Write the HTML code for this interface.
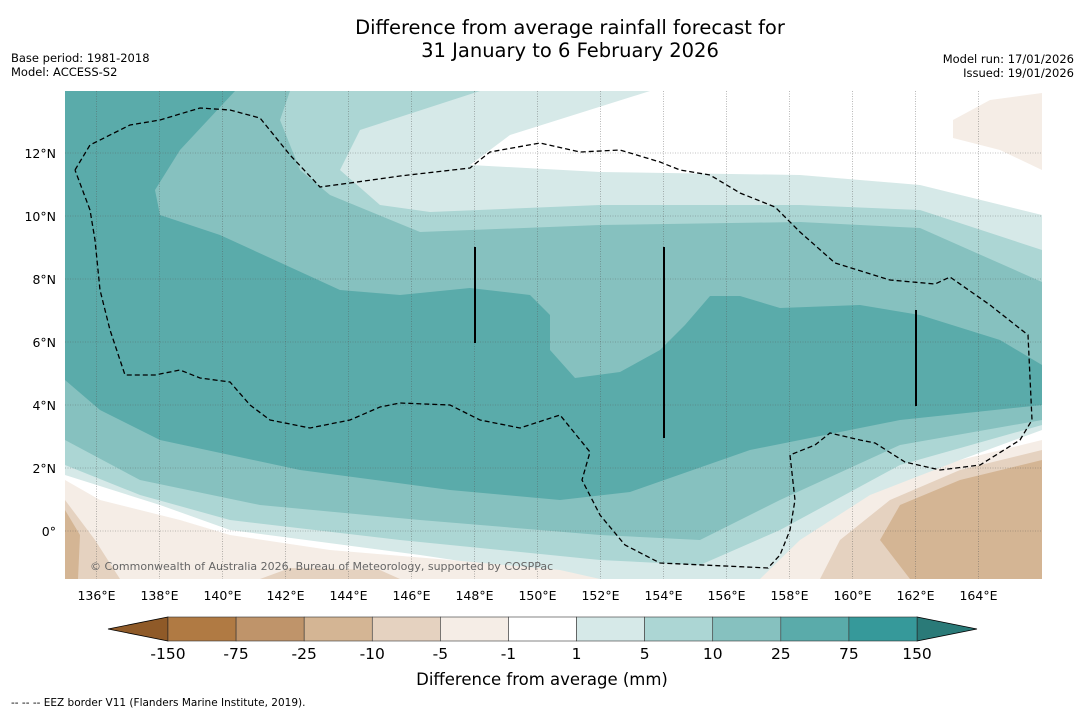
<!DOCTYPE html>
<html><head><meta charset="utf-8"><style>
body{margin:0;background:#fff;font-family:"Liberation Sans","DejaVu Sans",sans-serif;}
</style></head><body>
<svg id="s" width="1085" height="713" xmlns="http://www.w3.org/2000/svg" style="font-family:'DejaVu Sans','Liberation Sans',sans-serif">
<text x="570" y="34" font-size="19.5" text-anchor="middle">Difference from average rainfall forecast for</text>
<text x="570" y="57" font-size="19.5" text-anchor="middle">31 January to 6 February 2026</text>
<text x="11" y="62" font-size="11.5">Base period: 1981-2018</text>
<text x="11" y="76" font-size="11.5">Model: ACCESS-S2</text>
<text x="1074" y="63" font-size="11.5" text-anchor="end">Model run: 17/01/2026</text>
<text x="1074" y="77" font-size="11.5" text-anchor="end">Issued: 19/01/2026</text>
<defs><clipPath id="mc"><rect x="65" y="91" width="977" height="488"/></clipPath></defs>
<g id="map" clip-path="url(#mc)"></g>
<g id="axes"></g>
<g id="cbar"></g>
<text x="542" y="685" font-size="16.5" text-anchor="middle">Difference from average (mm)</text>
<text x="11" y="706" font-size="10.5">--  --  -- EEZ border V11 (Flanders Marine Institute, 2019).</text>
</svg>
<script>
const lonTicks=[136,138,140,142,144,146,148,150,152,154,156,158,160,162,164];
const latTicks=[0,2,4,6,8,10,12];
const levelLabels=["-150","-75","-25","-10","-5","-1","1","5","10","25","75","150"];
const levelColors=["#b07a43","#bf946a","#d4b594","#e5d2c0","#f5ede6","#ffffff","#d6e9e8","#acd6d4","#86c1bf","#5aabaa","#36999a"];
const extLow="#8f5a28", extHigh="#2a7a78";
const X=lon=>65+(lon-135)*31.5, Y=lat=>531-lat*31.5;
const NS="http://www.w3.org/2000/svg";
function mk(t,a,p){const e=document.createElementNS(NS,t);for(const k in a)e.setAttribute(k,a[k]);p.appendChild(e);return e;}
const map=document.getElementById('map'),axes=document.getElementById('axes'),cb=document.getElementById('cbar');
const regions=[
["#ffffff","65,91 1042,91 1042,579 65,579"],
["#d6e9e8","65,91 650,91 510,135 470,165 600,172 800,175 920,185 1042,215 1042,430 960,460 850,510 790,560 770,579 580,579 420,555 230,530 160,505 65,475"],
["#acd6d4","65,91 480,91 360,130 340,170 380,205 430,212 600,205 800,205 920,210 1042,250 1042,425 900,465 780,530 700,565 600,560 400,540 230,520 140,495 65,465"],
["#86c1bf","65,91 290,91 280,120 300,170 330,195 420,232 600,225 800,222 920,228 1042,282 1042,420 900,445 780,500 700,540 600,535 420,520 260,505 140,480 65,440"],
["#5aabaa","65,91 235,91 180,150 155,190 160,215 220,235 340,290 400,295 470,288 530,295 550,315 550,350 575,378 620,372 660,350 685,325 710,296 740,296 780,308 860,305 920,315 1000,340 1042,365 1042,405 900,420 750,450 630,492 560,500 450,490 300,470 160,440 100,410 65,380"],
["#f5ede6","65,480 100,500 180,520 230,535 330,550 450,560 560,570 600,579 65,579"],
["#e5d2c0","65,500 95,540 120,579 65,579"],
["#e5d2c0","260,579 290,568 380,570 400,579"],
["#d4b594","65,510 80,535 78,579 65,579"],
["#f5ede6","760,579 800,540 870,495 960,460 1042,440 1042,579"],
["#e5d2c0","820,579 840,540 890,500 960,470 1042,450 1042,579"],
["#d4b594","910,579 880,540 900,505 960,480 1042,460 1042,579"],
["#f5ede6","953,120 990,100 1042,93 1042,170 1000,150 953,138"]];
regions.forEach((r,i)=>{const p=mk('polygon',{points:r[1],fill:r[0]},map);

});
lonTicks.forEach(l=>{const g=mk('line',{x1:X(l),x2:X(l),y1:91,y2:579,stroke:'#555','stroke-width':0.6,'stroke-dasharray':'1,1.5','stroke-opacity':0.7},map);

});
latTicks.forEach(l=>{const g=mk('line',{x1:65,x2:1042,y1:Y(l),y2:Y(l),stroke:'#555','stroke-width':0.6,'stroke-dasharray':'1,1.5','stroke-opacity':0.7},map);

});
const eez="75,170 90,145 130,125 160,120 200,108 230,110 260,118 290,155 320,187 350,183 400,176 470,168 490,152 540,143 580,152 620,150 660,162 680,170 710,175 740,193 775,207 800,232 835,263 890,280 935,284 950,277 990,305 1028,335 1032,420 1020,440 980,465 940,470 905,462 875,443 860,440 830,433 815,445 790,455 795,500 790,530 780,555 768,568 660,563 625,545 600,515 582,480 590,452 560,415 520,428 480,420 450,405 400,403 380,407 350,420 310,428 270,420 250,405 230,382 200,378 180,370 155,375 125,375 110,330 100,290 95,240 90,210 75,170";
const e=mk('polyline',{points:eez,fill:'none',stroke:'#000','stroke-width':1.3,'stroke-dasharray':'5,3'},map);


[[475,247,343],[664,247,438],[916,310,406]].forEach((v,i)=>{const l=mk('line',{x1:v[0],x2:v[0],y1:v[1],y2:v[2],stroke:'#000','stroke-width':2},map);

});
const c=mk('text',{x:90,y:570,'font-size':11,fill:'#666'},map);c.textContent="© Commonwealth of Australia 2026, Bureau of Meteorology, supported by COSPPac";


lonTicks.forEach(l=>{const t=mk('text',{x:X(l),y:600,'font-size':12.5,'text-anchor':'middle'},axes);t.textContent=l+'°E';

});
latTicks.forEach(l=>{const t=mk('text',{x:56,y:Y(l)+5,'font-size':12.5,'text-anchor':'end'},axes);t.textContent=l===0?'0°':l+'°N';

});
const cx0=168,cw=(917-168)/levelColors.length,cy=617,ch=24;
const lo=mk('polygon',{points:`108,${cy+ch/2} ${cx0},${cy} ${cx0},${cy+ch}`,fill:extLow,stroke:'#000','stroke-width':0.8},cb);


const hi=mk('polygon',{points:`977,${cy+ch/2} 917,${cy} 917,${cy+ch}`,fill:extHigh,stroke:'#000','stroke-width':0.8},cb);


levelColors.forEach((col,i)=>{const r=mk('rect',{x:cx0+i*cw,y:cy,width:cw,height:ch,fill:col,stroke:'#333','stroke-width':0.6},cb);

});
levelLabels.forEach((s,i)=>{const t=mk('text',{x:cx0+i*cw,y:cy+ch+18,'font-size':15.5,'text-anchor':'middle'},cb);t.textContent=s;

});
</script>
</body></html>
